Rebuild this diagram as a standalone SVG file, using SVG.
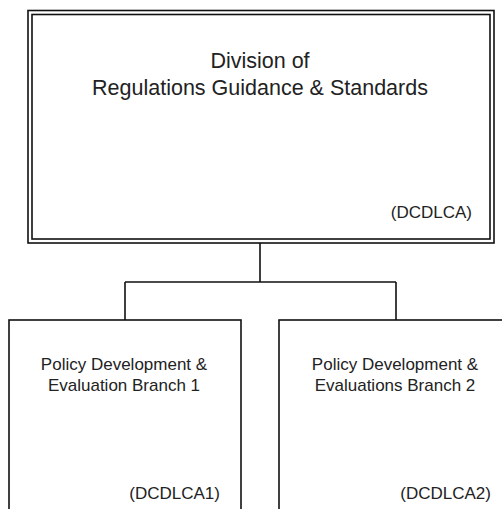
<svg xmlns="http://www.w3.org/2000/svg" width="502" height="509" viewBox="0 0 502 509">
<style>
.box{fill:#fff;stroke:#111;stroke-width:1.6}
.ln{fill:none;stroke:#111;stroke-width:1.6}
text{font-family:"Liberation Sans",Arial,sans-serif;fill:#222}
.t1{font-size:21.5px;text-anchor:middle}
.t2{font-size:17px;text-anchor:middle}
.code{font-size:17px;text-anchor:end}
</style>
<rect width="502" height="509" fill="#fff"/>
<g id="connectors">
<path class="ln" d="M260 243V282M125 282H396M125 282V320M396 282V320"/>
</g>
<g id="division">
<rect class="box" x="28" y="10.5" width="466" height="232.5"/>
<rect class="box" x="32" y="14.5" width="458" height="224.5"/>
<text class="t1" x="260" y="68">Division of</text>
<text class="t1" x="260" y="95">Regulations Guidance &amp; Standards</text>
<text class="code" x="472" y="218">(DCDLCA)</text>
</g>
<g id="branch1">
<rect class="box" x="9" y="320" width="232" height="200"/>
<text class="t2" x="124" y="370">Policy Development &amp;</text>
<text class="t2" x="124" y="391">Evaluation Branch 1</text>
<text class="code" x="220" y="499">(DCDLCA1)</text>
</g>
<g id="branch2">
<rect class="box" x="279" y="320" width="240" height="200"/>
<text class="t2" x="395" y="370">Policy Development &amp;</text>
<text class="t2" x="395" y="391">Evaluations Branch 2</text>
<text class="code" x="491" y="499">(DCDLCA2)</text>
</g>
</svg>
